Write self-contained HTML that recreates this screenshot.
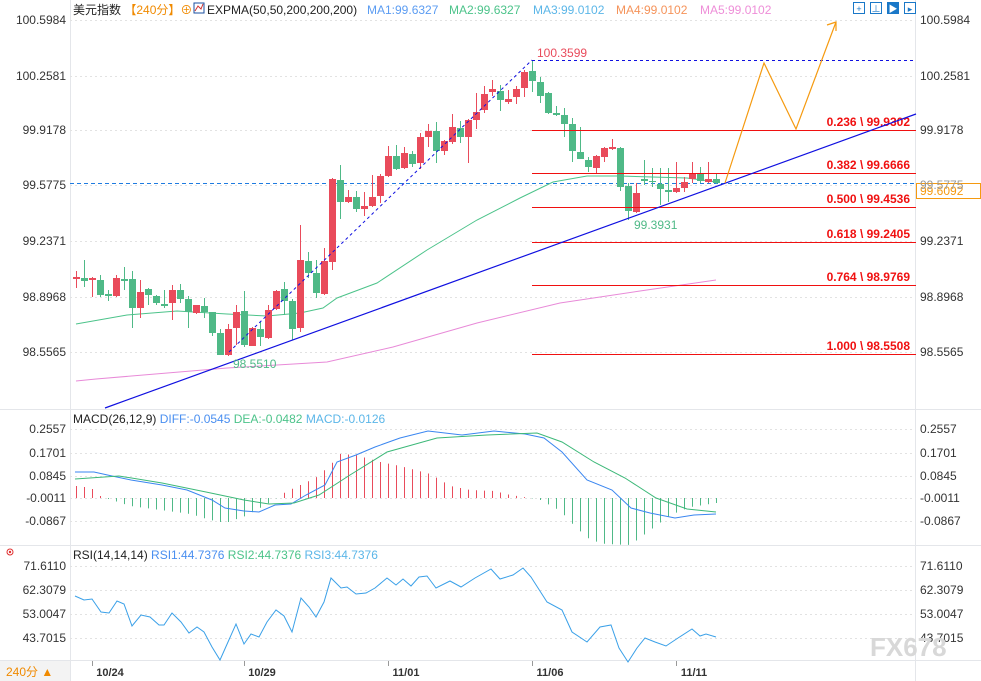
<!DOCTYPE html>
<html><head><meta charset="utf-8">
<style>
html,body{margin:0;padding:0;background:#fff;}
svg{display:block;font-family:"Liberation Sans","Noto Sans CJK SC",sans-serif;}
</style></head>
<body>
<svg id="s" width="981" height="681" viewBox="0 0 981 681" xmlns="http://www.w3.org/2000/svg">
<rect width="981" height="681" fill="#fff"/>
<!-- frame lines -->
<g stroke="#e4e6ea" stroke-width="1">
<line x1="70.5" y1="0" x2="70.5" y2="681"/>
<line x1="915.5" y1="0" x2="915.5" y2="681"/>
<line x1="0" y1="409.5" x2="981" y2="409.5"/>
<line x1="0" y1="545.5" x2="981" y2="545.5"/>
<line x1="0" y1="660.5" x2="981" y2="660.5"/>
</g>
<g id="grid" stroke="#e2e2e2" stroke-dasharray="2,3" stroke-width="1"></g>
<g id="main"></g>
<!-- legend -->
<text x="73" y="14" font-size="12" fill="#222">美元指数 <tspan fill="#f08a00">【240分】</tspan><tspan fill="#f08a00">⊕</tspan></text>
<rect x="194" y="3" width="10" height="10" fill="none" stroke="#1a4fa0"/>
<polyline points="195,11 198,6 201,9 203,4" fill="none" stroke="#d03030"/>
<text x="207" y="14" font-size="12" fill="#222">EXPMA(50,50,200,200,200)</text>
<text x="367" y="14" font-size="12" fill="#5b9cf2">MA1:99.6327</text>
<text x="449" y="14" font-size="12" fill="#4cc38a">MA2:99.6327</text>
<text x="533" y="14" font-size="12" fill="#5bb6e8">MA3:99.0102</text>
<text x="616" y="14" font-size="12" fill="#f5935a">MA4:99.0102</text>
<text x="700" y="14" font-size="12" fill="#ee8ed8">MA5:99.0102</text>
<g fill="none" stroke="#1a78c8">
<rect x="853.5" y="2.5" width="11" height="11"/><rect x="870.5" y="2.5" width="11" height="11"/>
<rect x="887.5" y="2.5" width="11" height="11" fill="#1a78c8"/><rect x="904.5" y="2.5" width="11" height="11"/>
</g>
<text x="859" y="12" font-size="9" fill="#1a78c8" text-anchor="middle">+</text>
<text x="876" y="12" font-size="9" fill="#1a78c8" text-anchor="middle">⊥</text>
<text x="893" y="12" font-size="9" fill="#fff" text-anchor="middle">▶</text>
<text x="910" y="12" font-size="9" fill="#1a78c8" text-anchor="middle">▸</text>
<g id="axes" font-size="12" fill="#333"></g>
<!-- MACD legend -->
<text x="73" y="423" font-size="12" fill="#222">MACD(26,12,9) <tspan fill="#4a8ff0">DIFF:-0.0545</tspan> <tspan fill="#4cc38a">DEA:-0.0482</tspan> <tspan fill="#5bb6e8">MACD:-0.0126</tspan></text>
<text x="73" y="559" font-size="12" fill="#222">RSI(14,14,14) <tspan fill="#4a8ff0">RSI1:44.7376</tspan> <tspan fill="#4cc38a">RSI2:44.7376</tspan> <tspan fill="#5bb6e8">RSI3:44.7376</tspan></text>
<circle cx="10" cy="552" r="3" fill="none" stroke="#e03030"/><circle cx="10" cy="552" r="1.2" fill="#e03030"/>
<text x="870" y="656" font-size="26" fill="#d8d8d8" font-weight="bold">FX678</text>
<rect x="0" y="661" width="70" height="20" fill="#f3f3f3"/>
<text x="6" y="676" font-size="12" fill="#f08a00">240分 ▲</text>
</svg>
<script>
const NS="http://www.w3.org/2000/svg";
function el(parent,tag,attrs,text){const e=document.createElementNS(NS,tag);for(const k in attrs)e.setAttribute(k,attrs[k]);if(text!==undefined)e.textContent=text;document.getElementById(parent).appendChild(e);return e;}
const grid="grid",m="main",ax="axes";
// price grid
const pt=[[20,"100.5984"],[76,"100.2581"],[130,"99.9178"],[185,"99.5775"],[241,"99.2371"],[297,"98.8968"],[352,"98.5565"]];
pt.forEach(([y,t])=>{el(grid,"line",{x1:70,x2:915,y1:y+.5,y2:y+.5});
 el(ax,"text",{x:66,y:y+4,"text-anchor":"end"},t); if(y!=185) el(ax,"text",{x:920,y:y+4},t);});
el(ax,"text",{x:920,y:189,fill:"#999"},"99.5775");
const mt=[[429,"0.2557"],[453,"0.1701"],[476,"0.0845"],[498,"-0.0011"],[521,"-0.0867"]];
mt.forEach(([y,t])=>{el(grid,"line",{x1:70,x2:915,y1:y+.5,y2:y+.5});el(ax,"text",{x:66,y:y+4,"text-anchor":"end"},t);el(ax,"text",{x:920,y:y+4},t);});
const rt=[[566,"71.6110"],[590,"62.3079"],[614,"53.0047"],[638,"43.7015"]];
rt.forEach(([y,t])=>{el(grid,"line",{x1:70,x2:915,y1:y+.5,y2:y+.5});el(ax,"text",{x:66,y:y+4,"text-anchor":"end"},t);el(ax,"text",{x:920,y:y+4},t);});
[[92,"10/24"],[244,"10/29"],[388,"11/01"],[532,"11/06"],[676,"11/11"]].forEach(([x,t])=>{
 el(m,"line",{x1:x+.5,x2:x+.5,y1:661,y2:666,stroke:"#999"});
 el(ax,"text",{x:x+18,y:676,"text-anchor":"middle","font-weight":"bold","font-size":"11"},t);});
// current price dashed line
el(m,"line",{x1:70,x2:915,y1:183.5,y2:183.5,stroke:"#1e7be0","stroke-dasharray":"4,3"});
// EXPMA lines
const ma1=[[76,324],[127,315],[177,311],[227,314],[267,316],[300,313],[323,308],[337,298],[377,283],[427,250],[477,220],[520,198],[553,182],[587,176],[620,176],[687,178],[717,182]];
const ma3=[[76,381],[96,379],[227,368],[327,362],[393,347],[477,323],[560,303],[640,291],[716,280]];
el(m,"polyline",{points:ma1.join(" "),fill:"none",stroke:"#4cc38a","stroke-width":1});
el(m,"polyline",{points:ma3.join(" "),fill:"none",stroke:"#e88ad8","stroke-width":1});
// candles
const C=[["r",277,279,271,288],["g",278,281,260,287],["r",278,280,277,297],["g",280,295,275,297],["g",294,296,290,301],["r",278,296,275,297],["g",279,281,267,290],["g",279,308,271,328],["r",292,308,280,318],["g",289,295,288,305],["g",296,303,295,305],["g",304,306,290,308],["r",290,303,285,320],["g",290,299,284,303],["g",299,312,296,328],["r",305,313,305,314],["g",306,312,298,318],["g",312,333,312,336],["g",333,355,329,355],["r",329,355,324,356],["r",312,328,305,345],["g",311,345,291,347],["r",328,346,327,346],["g",329,337,322,346],["r",310,338,305,339],["r",291,309,290,310],["g",289,301,282,315],["g",301,329,299,340],["r",260,328,225,332],["g",261,273,252,278],["g",273,293,260,298],["r",261,294,248,295],["r",179,262,178,270],["g",180,202,165,219],["r",197,202,190,203],["g",197,209,191,212],["r",206,209,192,216],["r",197,206,175,207],["r",176,196,174,203],["r",156,176,146,177],["g",156,169,145,170],["r",153,168,147,169],["g",154,164,151,167],["r",137,163,133,169],["r",131,137,124,147],["g",131,151,122,163],["r",141,151,140,155],["r",127,142,114,144],["g",128,137,121,143],["r",120,137,119,163],["r",112,120,93,129],["r",94,110,86,113],["r",89,92,80,96],["g",91,100,85,111],["r",99,102,90,104],["r",89,97,86,104],["r",72,88,70,97],["g",71,81,61,92],["g",82,96,77,103],["g",93,113,92,114],["g",113,115,106,116],["g",115,124,108,137],["g",124,151,118,162],["g",152,159,127,159],["g",160,167,157,172],["r",156,168,155,174],["r",148,157,147,162],["r",147,149,139,150],["g",148,187,147,191],["g",186,211,183,220],["r",193,212,183,213],["g",179,181,160,185],["g",181,182,168,187],["g",184,189,168,205],["g",190,192,168,202],["r",188,192,162,193],["r",182,188,177,192],["r",173,179,162,183],["g",174,181,167,183],["r",179,182,162,183],["g",179,183,174,184]];
C.forEach((c,i)=>{const x=76+8*i;const col=c[0]=="r"?"#e94b5b":"#4fb987";
 el(m,"line",{x1:x+.5,x2:x+.5,y1:c[3],y2:c[4],stroke:col});
 el(m,"rect",{x:x-3,y:c[1],width:7,height:Math.max(1,c[2]-c[1]),fill:col});});
// fib lines
[[130,"0.236 \\ 99.9302"],[173,"0.382 \\ 99.6666"],[207,"0.500 \\ 99.4536"],[242,"0.618 \\ 99.2405"],[285,"0.764 \\ 98.9769"],[354,"1.000 \\ 98.5508"]].forEach(([y,t])=>{
 el(m,"line",{x1:532,x2:916,y1:y+.5,y2:y+.5,stroke:"#f01010"});
 el(m,"text",{x:910,y:y-4,"text-anchor":"end",fill:"#f01010","font-size":"12","font-weight":"bold"},t);});
// trendline and dashed lines
el(m,"line",{x1:105,y1:408,x2:916,y2:114,stroke:"#1010e0","stroke-width":1.2});
el(m,"line",{x1:229,y1:352,x2:532,y2:60,stroke:"#1010e0","stroke-dasharray":"3,3"});
el(m,"line",{x1:532,y1:60.5,x2:915,y2:60.5,stroke:"#1010e0","stroke-dasharray":"3,3"});
el(m,"polyline",{points:"725,183 764,63 796,129 836,22",fill:"none",stroke:"#f59a10","stroke-width":1.2});
el(m,"polyline",{points:"827,25 836,22 836,31",fill:"none",stroke:"#f59a10","stroke-width":1.2});
el(m,"text",{x:537,y:57,fill:"#e94b5b","font-size":"12"},"100.3599");
el(m,"text",{x:634,y:229,fill:"#4fb987","font-size":"12"},"99.3931");
el(m,"text",{x:233,y:368,fill:"#4fb987","font-size":"12"},"98.5510");
el(m,"rect",{x:916.5,y:183.5,width:64,height:15,fill:"#fff",stroke:"#f59a10"});
el(m,"text",{x:920,y:195,fill:"#f59a10","font-size":"12"},"99.6092");
// MACD
function interp(pts,x){for(let i=0;i<pts.length-1;i++){if(x>=pts[i][0]&&x<=pts[i+1][0]){const t=(x-pts[i][0])/(pts[i+1][0]-pts[i][0]);return pts[i][1]+t*(pts[i+1][1]-pts[i][1]);}}return pts[pts.length-1][1];}
const H=[[76,486],[84,487],[92,489],[100,496],[108,499],[130,506],[160,510],[190,514],[210,520],[225,523],[245,516],[265,505],[275,499],[285,492],[300,485],[315,478],[330,465],[340,454],[355,455],[380,462],[400,466],[430,474],[450,486],[470,490],[494,491],[510,495],[530,498],[540,500],[560,511],[575,527],[590,540],[605,544],[630,545],[650,530],[670,515],[690,507],[716,503]];
for(let i=0;i<81;i++){const x=76+8*i;const y=interp(H,x);
 el(m,"line",{x1:x+.5,x2:x+.5,y1:498,y2:y,stroke:y<498?"#e94b5b":"#4fb987"});}
const diff=[[75,472],[94,472],[112,476],[131,480],[162,485],[187,490],[212,500],[225,508],[244,511],[259,512],[275,505],[291,504],[306,495],[325,485],[337,462],[356,455],[375,447],[400,438],[428,431],[462,435],[494,431],[525,434],[544,438],[562,452],[587,480],[612,490],[631,508],[650,513],[675,518],[694,515],[716,514]];
const dea=[[75,479],[119,476],[162,483],[206,492],[244,500],[269,504],[294,503],[319,495],[350,475],[387,452],[437,438],[487,435],[537,433],[562,442],[594,462],[625,478],[656,498],[687,509],[716,512]];
el(m,"polyline",{points:diff.join(" "),fill:"none",stroke:"#3a86f0"});
el(m,"polyline",{points:dea.join(" "),fill:"none",stroke:"#3cb878"});
// RSI
const rsi=[[75,596],[84,600],[92,599],[101,612],[109,613],[117,601],[124,604],[132,626],[141,615],[150,617],[159,625],[164,625],[172,613],[181,622],[189,633],[197,627],[204,632],[212,647],[220,660],[228,642],[236,624],[244,644],[251,634],[259,637],[267,622],[276,610],[284,616],[292,632],[301,598],[309,607],[316,617],[324,602],[331,578],[341,588],[347,587],[356,594],[366,593],[375,588],[387,578],[396,585],[403,579],[411,586],[419,577],[427,576],[436,588],[450,581],[461,587],[475,578],[491,569],[500,579],[513,575],[523,568],[531,577],[547,602],[562,610],[572,632],[587,642],[600,627],[611,625],[619,648],[628,662],[637,648],[645,638],[655,642],[666,646],[678,638],[692,629],[700,636],[706,634],[716,637]];
el(m,"polyline",{points:rsi.join(" "),fill:"none",stroke:"#3aa0e8"});
</script>
</body></html>
